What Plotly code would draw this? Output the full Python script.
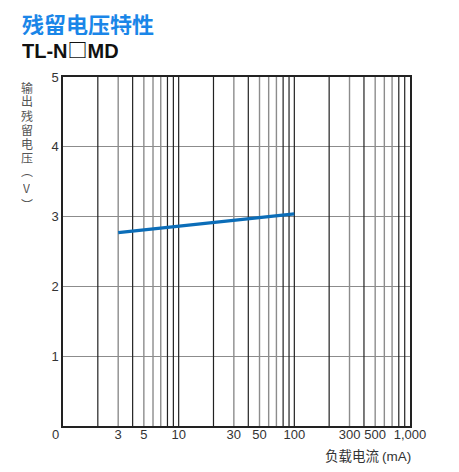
import plotly.graph_objects as go

# Data
load_current_ma = [3, 100]
residual_voltage_v = [2.77, 3.04]

x_tick_vals = [3, 5, 10, 30, 50, 100, 300, 500, 1000]
x_tick_text = ["3", "5", "10", "30", "50", "100", "300", "500", "1,000"]
y_tick_vals = [1, 2, 3, 4, 5]

grid_dark = [2, 4, 8, 9, 10, 20, 40, 80, 90, 100, 200, 400, 800, 900]
grid_light = [3, 5, 6, 7, 30, 50, 60, 70, 300, 500, 600, 700]

y_title_chars = ["输", "出", "残", "留", "电", "压", "︵", "V", "︶"]
y_title_pos = [87, 101, 115, 129, 143, 157, 170, 187, 204]

# page offset of the plotly div (body margin)
OFF = 8
W, H = 459 - OFF, 472 - OFF
L, R, T, B = 63 - OFF, 49, 77 - OFF, 46
pw, ph = W - L - R, H - T - B


def px(x):
    return (x - OFF - L) / pw


def py(y):
    return (H - B - (y - OFF)) / ph


def grid_xy(vals):
    xs, ys = [], []
    for v in vals:
        xs += [v, v, None]
        ys += [0, 5, None]
    return xs, ys


fig = go.Figure()
gx, gy = grid_xy(grid_light)
fig.add_trace(go.Scatter(x=gx, y=gy, mode="lines", line=dict(color="#8c8c8c", width=1.4),
                         hoverinfo="skip", showlegend=False))
gx, gy = grid_xy(grid_dark)
fig.add_trace(go.Scatter(x=gx, y=gy, mode="lines", line=dict(color="#222222", width=1.2),
                         hoverinfo="skip", showlegend=False))

fig.add_trace(go.Scatter(x=load_current_ma, y=residual_voltage_v, mode="lines",
                         line=dict(color="#0b6db8", width=3.2), showlegend=False))

latin = "Liberation Sans, Arial, sans-serif"
cjk = "Noto Sans CJK SC, sans-serif"

fig.update_xaxes(type="log", range=[0, 3], showgrid=False, zeroline=False,
                 tickvals=x_tick_vals, ticktext=x_tick_text, ticks="",
                 ticklabelstandoff=-4,
                 tickfont=dict(family=latin, size=13, color="#333333"),
                 showline=True, linecolor="#222222", linewidth=1.5, mirror=True)
fig.update_yaxes(range=[0, 5], tickvals=y_tick_vals, showgrid=True, gridcolor="#8c8c8c",
                 gridwidth=1.3, zeroline=False, ticks="",
                 tickfont=dict(family=latin, size=13, color="#333333"),
                 showline=True, linecolor="#222222", linewidth=1.5, mirror=True)

annotations = [
    dict(x=px(21), y=py(23), xref="paper", yref="paper", xanchor="left", yanchor="middle",
         text="<b>残留电压特性</b>", showarrow=False, height=24, borderpad=0,
         font=dict(family=cjk, size=22, color="#1a86e8")),
    dict(x=px(21), y=py(49), xref="paper", yref="paper", xanchor="left", yanchor="middle",
         text="<b>TL-N<span style=\"font-family:'Noto Sans CJK SC'\">□</span>MD</b>",
         showarrow=False, height=22, borderpad=0,
         font=dict(family=latin, size=20, color="#111111")),
    dict(x=px(413), y=py(455), xref="paper", yref="paper", xanchor="right", yanchor="middle",
         text="负载电流 <span style=\"font-family:'Liberation Sans'\">(mA)</span>",
         showarrow=False,
         font=dict(family=cjk, size=13.5, color="#333333")),
    dict(x=px(55), y=py(434), xref="paper", yref="paper", xanchor="center", yanchor="middle",
         text="0", showarrow=False,
         font=dict(family=latin, size=13, color="#333333")),
]
for ch, yp in zip(y_title_chars, y_title_pos):
    annotations.append(dict(x=px(26.5), y=py(yp), xref="paper", yref="paper",
                            xanchor="center", yanchor="middle", text=ch, showarrow=False,
                            height=13, borderpad=0,
                            font=dict(family=cjk, size=12, color="#555555")))

fig.update_layout(width=W, height=H, autosize=False,
                  margin=dict(l=L, r=R, t=T, b=B),
                  paper_bgcolor="white", plot_bgcolor="white",
                  annotations=annotations, showlegend=False)

fig.write_html("out.html")
